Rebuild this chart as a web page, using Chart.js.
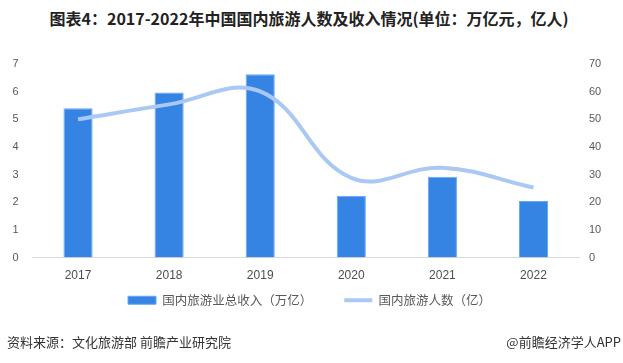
<!DOCTYPE html>
<html>
<head>
<meta charset="utf-8">
<script src="https://cdn.jsdelivr.net/npm/chart.js@4.4.0/dist/chart.umd.min.js"></script>
<style>
  html, body { margin: 0; padding: 0; background: #fff; }
  .page { position: relative; width: 623px; height: 363px; overflow: hidden; font-family: "Noto Sans CJK SC", sans-serif; }
  .title { position: absolute; top: 6px; left: 0; width: 618px; text-align: center; font-size: 16px; font-weight: bold; color: #222; white-space: nowrap; }
  .chart-box { position: absolute; left: 0; top: 0; width: 623px; height: 363px; }
  .source { position: absolute; left: 7px; top: 332px; font-size: 13px; color: #333; }
  .brand { position: absolute; right: 2px; top: 332px; font-size: 13px; color: #333; }
</style>
</head>
<body>
<div class="page">
  <div class="title">图表4：2017-2022年中国国内旅游人数及收入情况(单位：万亿元，亿人)</div>
  <div class="chart-box"><canvas id="tourismChart"></canvas></div>
  <div class="source">资料来源：文化旅游部 前瞻产业研究院</div>
  <div class="brand">@前瞻经济学人APP</div>
</div>
<script>
// data
const years = ["2017", "2018", "2019", "2020", "2021", "2022"];
const revenue = [5.40, 5.97, 6.63, 2.23, 2.92, 2.04];        // 万亿元
const tourists = [50.01, 55.39, 60.06, 28.79, 32.46, 25.30]; // 亿人次
const leftTicks = [0, 1, 2, 3, 4, 5, 6, 7];
const rightTicks = [0, 10, 20, 30, 40, 50, 60, 70];

const tickFont = { family: "'Liberation Sans', 'Noto Sans', sans-serif", size: 11 };

// move the legend to where the original has it
const legendSpot = {
  id: "legendSpot",
  afterLayout(chart) {
    const lg = chart.legend;
    lg.left = 96;
    lg.top = 262;
  },
};

new Chart(document.getElementById("tourismChart"), {
  type: "bar",
  data: {
    labels: years,
    datasets: [
      {
        type: "line",
        label: "国内旅游人数（亿）",
        data: tourists,
        yAxisID: "y1",
        borderColor: "#a9c8f4",
        backgroundColor: "#a9c8f4",
        borderWidth: 4,
        tension: 0.4,
        pointRadius: 0,
        fill: false,
        order: 0,
      },
      {
        label: "国内旅游业总收入（万亿）",
        data: revenue,
        yAxisID: "y",
        backgroundColor: "#3584e4",
        borderColor: "#68a6f0",
        borderWidth: 1,
        categoryPercentage: 1,
        barPercentage: 0.32,
        order: 1,
      },
    ],
  },
  options: {
    responsive: true,
    maintainAspectRatio: false,
    animation: false,
    layout: { padding: { top: 64, left: 0, right: 0, bottom: 26 } },
    plugins: {
      legend: {
        position: "bottom",
        align: "start",
        reverse: true,
        labels: {
          color: "#595959",
          font: { family: "'Noto Sans CJK SC', sans-serif", size: 12.5 },
          usePointStyle: true,
          pointStyleWidth: 28,
          boxHeight: 8,
          padding: 32,
          generateLabels(chart) {
            const items = Chart.defaults.plugins.legend.labels.generateLabels(chart);
            items.forEach((it) => {
              it.pointStyle = it.datasetIndex === 0 ? "line" : "rect";
            });
            return items;
          },
        },
      },
      tooltip: { enabled: false },
    },
    scales: {
      x: {
        grid: { display: false, drawTicks: false },
        border: { display: true, color: "#d9d9d9", width: 1 },
        ticks: { color: "#4d4d4d", font: { ...tickFont, size: 12 }, padding: 11 },
        afterFit(scale) { scale.height = 25; },
      },
      y: {
        position: "left",
        min: 0,
        max: 7,
        afterBuildTicks(scale) { scale.ticks = leftTicks.map((v) => ({ value: v })); },
        grid: { display: false, drawTicks: false },
        border: { display: false },
        ticks: { color: "#595959", font: tickFont, padding: 14 },
        afterFit(scale) { scale.width = 32.5; },
      },
      y1: {
        position: "right",
        min: 0,
        max: 70,
        afterBuildTicks(scale) { scale.ticks = rightTicks.map((v) => ({ value: v })); },
        grid: { display: false, drawTicks: false },
        border: { display: false },
        ticks: { color: "#595959", font: tickFont, padding: 10 },
        afterFit(scale) { scale.width = 44; },
      },
    },
  },
  plugins: [legendSpot],
});
</script>
</body>
</html>
